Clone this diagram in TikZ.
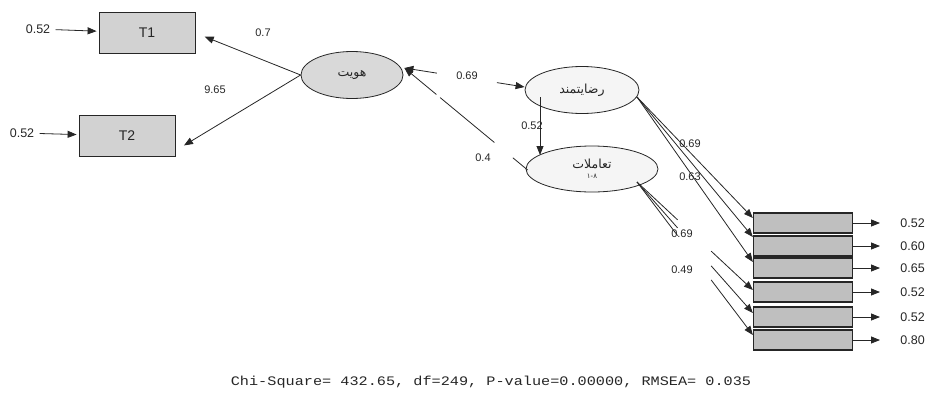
\documentclass[tikz,border=0pt]{standalone}
\usepackage{fontspec}
\setmainfont{Liberation Sans}
\setmonofont{Liberation Mono}
\newfontfamily\farsifont[Script=Arabic]{DejaVu Sans}
\TeXXeTstate=1
\usetikzlibrary{shapes.geometric,arrows.meta,calc}

\tikzset{
  obs/.style={draw, fill=gray!35, minimum width=96pt, minimum height=41pt, inner sep=0pt, font=\fontsize{14}{14}\selectfont},
  ind/.style={draw, fill=gray!50, line width=1.3pt, minimum width=99pt, minimum height=20pt, inner sep=0pt},
  lat/.style={draw, ellipse, inner sep=0pt, fill=gray!8, font=\farsifont\fontsize{12.5}{13}\selectfont},
  lbl/.style={font=\fontsize{11}{11}\selectfont, inner sep=1pt},
  err/.style={font=\fontsize{12.5}{12.5}\selectfont, inner sep=1pt},
  arr/.style={-{Triangle[length=9pt,width=7pt]}},
}

\begin{document}
\begin{tikzpicture}[x=1pt, y=-1pt, line width=0.8pt, color=black!85]
\useasboundingbox (0,0) rectangle (936,399);

% Shakhes-ha T
\node[obs] (T1) at (147,33) {T1};
\node[obs] (T2) at (127,136) {T2};
\node[err] (e1) at (38,29) {0.52};
\node[err] (e2) at (22,133) {0.52};
\draw[arr, shorten <=4pt, shorten >=2pt] (e1) -- (T1);
\draw[arr, shorten <=4pt, shorten >=2pt] (e2) -- (T2);

% Motaghayer-haye penhan
\node[lat, fill=gray!30, minimum width=102pt, minimum height=47pt] (hov) at (352,75) {\beginR هویت\endR};
\node[lat, minimum width=114pt, minimum height=47pt] (rz) at (582,90) {\beginR رضایتمند\endR};
\node[lat, minimum width=132pt, minimum height=46pt, align=center] (tam) at (592,169)
  {\beginR تعاملات\endR\\[-3pt]{\fontsize{7}{7}\selectfont ۱-۸}};

% hoviat -> T
\draw[arr, shorten >=10pt] (hov.west) -- (T1.east);
\draw[arr, shorten >=10pt] (hov.west) -- ($(T2.east)!0.7!(T2.south east)$);
\node[lbl] (l1) at (263,33) {0.7};
\node[lbl] (l2) at (215,90) {9.65};

% rz <-> hoviat
\coordinate (hovR) at ($(hov.east)+(1,-7)$);
\coordinate (rzL) at ($(rz.west)+(0,-3)$);
\draw[arr] ($(rzL)!0.73!(hovR)$) -- (hovR);
\draw[arr] ($(hovR)!0.77!(rzL)$) -- (rzL);
\node[lbl] (l3) at (467,76) {0.69};

% tam -> hoviat
\coordinate (tamL) at ($(tam.west)+(2,1)$);
\draw (tamL) -- ($(tamL)!0.12!(hovR)$);
\draw ($(tamL)!0.27!(hovR)$) -- ($(tamL)!0.71!(hovR)$);
\draw[arr] ($(tamL)!0.74!(hovR)$) -- (hovR);
\node[lbl] (l4) at (483,158) {0.4};

% rz -> tam
\draw[arr] ($(rz.center)+(-42,7)$) -- ($(tam.center)+(-52,-14)$);
\node[lbl] (l5) at (532,126) {0.52};

% Gouye-ha
\foreach \i/\y/\v in {1/223/0.52, 2/246/0.60, 3/268/0.65, 4/292/0.52, 5/317/0.52, 6/340/0.80} {
  \node[ind] (b\i) at (803,\y) {};
  \node[err, anchor=west] (r\i) at (899,\y) {\v};
  \draw[arr, shorten >=19pt] (b\i) -- (r\i);
}

% rz -> gouye 1-3
\coordinate (rzo) at ($(rz.center)+(55,7)$);
\draw[arr] (rzo) -- ($(b1.west)+(0,-5)$);
\draw[arr] (rzo) -- ($(b2.west)+(0,-9)$);
\draw[arr] (rzo) -- ($(b3.west)+(0,-6)$);
\node[lbl] (l6) at (690,144) {0.69};
\node[lbl] (l7) at (690,177) {0.63};

% tam -> gouye 4-6
\coordinate (tmo) at ($(tam.center)+(45,13)$);
\foreach \i/\dy in {4/-2, 5/-4, 6/-5} {
  \coordinate (tt\i) at ($(b\i.west)+(0,\dy)$);
  \draw (tmo) -- ($(tmo)!0.35!(tt\i)$);
  \draw[arr] ($(tmo)!0.64!(tt\i)$) -- (tt\i);
}
\node[lbl] (l8) at (682,234) {0.69};
\node[lbl] (l9) at (682,270) {0.49};

% Shakhes-haye bararesh
\node[font=\ttfamily\fontsize{13}{13}\selectfont] (fit) at (491,382)
  {\scalebox{1.17}[1]{Chi-Square= 432.65, df=249, P-value=0.00000, RMSEA= 0.035}};

\end{tikzpicture}
\end{document}
